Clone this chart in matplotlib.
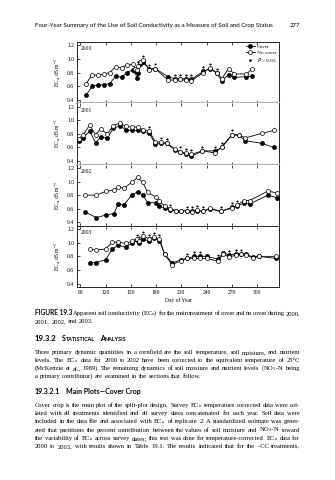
import numpy as np
import matplotlib
matplotlib.use("Agg")
import matplotlib.pyplot as plt
from matplotlib.lines import Line2D

W, H, DPI = 335, 480, 100
SERIF = "Liberation Serif"
SANS = "Lato"
plt.rcParams["font.family"] = [SERIF, "DejaVu Sans"]
plt.rcParams["mathtext.default"] = "regular"

# ---------------- data: apparent soil conductivity, dS/m ----------------
years = ["2000", "2001", "2002", "2003"]

days_2000 = [97, 104, 111, 118, 125, 132, 139, 145, 152, 155, 157, 159, 161, 164, 172,
             179, 194, 202, 208, 215, 222, 236, 244, 252, 258, 266, 273, 287, 294]
cover_2000 = [0.47, 0.60, 0.62, 0.62, 0.64, 0.75, 0.73, 0.80, 0.84, 0.82, 0.72, 0.80, 0.93,
              0.96, 0.85, 0.86, 0.74, 0.71, 0.71, 0.71, 0.70, 0.82, 0.86, 0.79, 0.68, 0.77,
              0.73, 0.74, 0.75]
nocover_2000 = [0.64, 0.77, 0.76, 0.78, 0.80, 0.89, 0.87, 0.91, 0.92, 0.86, 0.84, 0.90, 0.96,
                0.99, 0.84, 0.86, 0.69, 0.69, 0.70, 0.69, 0.68, 0.80, 0.87, 0.80, 0.71, 0.86,
                0.78, 0.78, 0.85]
sig_2000 = [159, 164, 172, 179, 202, 208, 215, 222, 236, 244, 252]

days_2001 = [88, 93, 101, 108, 114, 122, 129, 137, 144, 151, 158, 165, 172, 179, 186, 193,
             202, 208, 216, 222, 235, 250, 258, 270, 278, 286, 306, 320]
cover_2001 = [0.69, 0.74, 0.84, 0.67, 0.75, 0.74, 0.88, 0.92, 0.86, 0.85, 0.85, 0.84, 0.81,
              0.65, 0.66, 0.66, 0.57, 0.53, 0.50, 0.47, 0.55, 0.55, 0.60, 0.78, 0.78, 0.70,
              0.66, 0.60]
nocover_2001 = [0.73, 0.78, 0.93, 0.79, 0.87, 0.80, 0.92, 0.96, 0.91, 0.90, 0.90, 0.86, 0.84,
                0.68, 0.68, 0.66, 0.58, 0.54, 0.52, 0.50, 0.55, 0.52, 0.61, 0.79, 0.79, 0.74,
                0.81, 0.85]
sig_2001 = [172, 186, 193, 208, 216, 222, 235, 250, 258, 270]

days_2002 = [96, 109, 121, 130, 135, 142, 151, 158, 164, 170, 180, 184, 190, 197, 204, 210,
             217, 223, 229, 236, 244, 257, 270, 276, 284, 291, 313, 324]
cover_2002 = [0.55, 0.47, 0.51, 0.53, 0.67, 0.66, 0.80, 0.85, 0.80, 0.69, 0.69, 0.64, 0.61,
              0.58, 0.57, 0.57, 0.57, 0.56, 0.57, 0.56, 0.60, 0.56, 0.62, 0.64, 0.68, 0.67,
              0.80, 0.76]
nocover_2002 = [0.80, 0.80, 0.86, 0.87, 0.92, 0.90, 0.99, 1.06, 0.99, 0.84, 0.77, 0.71, 0.64,
                0.60, 0.57, 0.57, 0.57, 0.55, 0.58, 0.56, 0.61, 0.56, 0.61, 0.65, 0.72, 0.72,
                0.86, 0.83]
sig_2002 = [197, 217, 223, 229, 236, 257, 270, 276]

days_2003 = [102, 108, 120, 128, 135, 144, 151, 157, 160, 165, 171, 177, 184, 190, 199, 209,
             217, 225, 232, 240, 253, 260, 267, 275, 281, 287, 295, 302, 323]
cover_2003 = [0.71, 0.71, 0.75, 0.91, 0.96, 0.94, 0.99, 1.04, 0.99, 1.05, 1.03, 1.07, 1.03,
              0.84, 0.70, 0.75, 0.77, 0.80, 0.80, 0.80, 0.76, 0.85, 0.82, 0.84, 0.84, 0.83,
              0.79, 0.80, 0.77]
nocover_2003 = [0.91, 0.89, 0.91, 1.01, 1.01, 0.99, 1.02, 1.06, 1.02, 1.10, 1.06, 1.08, 1.06,
                0.83, 0.68, 0.73, 0.77, 0.77, 0.77, 0.77, 0.73, 0.83, 0.79, 0.82, 0.83, 0.82,
                0.78, 0.80, 0.80]
sig_2003 = [157, 160, 165, 171, 177, 184, 217, 225, 232, 253, 267, 275, 281]

x_ticks = [90, 120, 150, 180, 210, 240, 270, 300]
y_ticks = [0.4, 0.6, 0.8, 1.0, 1.2]

panels = [
    (days_2000, cover_2000, nocover_2000, sig_2000),
    (days_2001, cover_2001, nocover_2001, sig_2001),
    (days_2002, cover_2002, nocover_2002, sig_2002),
    (days_2003, cover_2003, nocover_2003, sig_2003),
]

# ---------------- page text ----------------
header = "Four-Year Summary of the Use of Soil Conductivity as a Measure of Soil and Crop Status"
page_no = "277"
caption_label = "FIGURE 19.3"
caption_lines = [
    "Apparent soil conductivity (EC$_a$) for the main treatment of cover and no cover during 2000,",
    "2001, 2002, and 2003.",
]
section_no = "19.3.2"
section_title = "Statistical Analysis"
para1 = [
    "Three primary dynamic quantities in a cornfield are the soil temperature, soil moisture, and nutrient",
    "levels. The EC$_a$ data for 2000 to 2002 have been corrected to the equivalent temperature of 25°C",
    "(McKenzie et al., 1989). The remaining dynamics of soil moisture and nutrient levels (NO$_3$-N being",
    "a primary contributor) are examined in the sections that follow.",
]
subsection_no = "19.3.2.1"
subsection_title = "Main Plots—Cover Crop"
para2 = [
    "Cover crop is the main plot of the split-plot design. Survey EC$_a$ temperature corrected data were col-",
    "lated with all treatments identified and all survey dates concatenated for each year. Soil data were",
    "included in the data file and associated with EC$_a$ of replicate 2. A standardized estimate was gener-",
    "ated that partitions the percent contribution between the values of soil moisture and NO$_3$-N toward",
    "the variability of EC$_a$ across survey dates; this test was done for temperature-corrected EC$_a$ data for",
    "2000 to 2003, with results shown in Table 19.1. The results indicated that for the \u2013CC treatments,",
]

fig = plt.figure(figsize=(W / DPI, H / DPI), dpi=DPI)
fig.patch.set_facecolor("white")
renderer = fig.canvas.get_renderer()


def px_rect(left, top, right, bottom):
    return [left / W, 1 - bottom / H, (right - left) / W, (bottom - top) / H]


# ---------------- chart panels ----------------
AX_L, AX_R, AX_T, AX_B = 77, 279, 42, 287
ph = (AX_B - AX_T) / 4
line_kw = dict(color="black", lw=0.6, marker="o", ms=2.9, mew=0.5, mec="black")
star_marker = (6, 2, 0)

for i, (yr, (days, cov, nocov, sig)) in enumerate(zip(years, panels)):
    ax = fig.add_axes(px_rect(AX_L, AX_T + i * ph, AX_R, AX_T + (i + 1) * ph))
    ax.plot(days, cov, mfc="black", zorder=3, **line_kw)
    ax.plot(days, nocov, mfc="white", zorder=4, **line_kw)
    top_vals = [max(cov[days.index(d)], nocov[days.index(d)]) + 0.06 for d in sig]
    ax.scatter(sig, top_vals, marker=star_marker, s=1.5, lw=0.35, color="black", zorder=5)

    ax.set_xlim(86, 326)
    ax.set_ylim(0.35, 1.25)
    ax.set_xticks(x_ticks)
    ax.set_yticks(y_ticks)
    ax.yaxis.set_major_formatter(lambda v, p: f"{v:.1f}")
    ax.tick_params(direction="in", length=2, width=0.5, top=True, labelsize=4, pad=2)
    if i < 3:
        ax.tick_params(labelbottom=False)
    for sp in ax.spines.values():
        sp.set_linewidth(0.6)
    if i in (0, 1):
        ax.spines["bottom"].set_color("0.7")
        ax.spines["bottom"].set_linewidth(1.6)
    if i in (1, 2):
        ax.spines["top"].set_visible(False)
    ax.text(0.02, 0.93, yr, transform=ax.transAxes, fontsize=4, va="top", ha="left")
    ax.set_ylabel("EC$_a$, dS m$^{-1}$", fontsize=4, labelpad=3)

    if i == 0:
        handles = [
            Line2D([], [], mfc="black", **line_kw),
            Line2D([], [], mfc="white", **line_kw),
            Line2D([], [], ls="none", marker=star_marker, ms=2, mew=0.35, color="black"),
        ]
        ax.legend(handles, ["Cover", "No cover", "$\\mathit{P}$ > 0.05"], loc="upper right",
                  fontsize=3.8, frameon=False, handlelength=1.6, handletextpad=0.5,
                  labelspacing=0.2, borderaxespad=0.2, borderpad=0.2)
    if i == 3:
        ax.set_xlabel("Day of Year", fontsize=4, labelpad=2)


# ---------------- justified text helpers ----------------
TXT_L, TXT_R = 35, 300


def seg_width(s, props):
    t = fig.text(0.5, 0.5, s, **props)
    w = t.get_window_extent(renderer).width
    t.remove()
    return w


def token_widths(tokens):
    return [sum(seg_width(s, p) for s, p in tok) for tok in tokens]


def words(line, props):
    return [[(w, props)] for w in line.split(" ")]


# body size: the largest that lets every full line fit with a normal word gap
body_size = 5.4
while body_size > 3.5:
    props = dict(family=SERIF, fontsize=body_size)
    ok = True
    for ln in para1[:-1] + para2:
        tw = token_widths(words(ln, props))
        if (TXT_R - TXT_L - sum(tw)) / (len(tw) - 1) < 1.4:
            ok = False
            break
    if ok:
        break
    body_size -= 0.1
BODY = dict(family=SERIF, fontsize=body_size)
BOLD_SANS = dict(family=SANS, fontsize=body_size, weight="bold")


def place_line(tokens, y, justify=True, x0=TXT_L, x1=TXT_R, space=1.7):
    widths = token_widths(tokens)
    if justify and len(tokens) > 1:
        gap = (x1 - x0 - sum(widths)) / (len(tokens) - 1)
    else:
        gap = space
    x = x0
    for tok, w in zip(tokens, widths):
        xx = x
        for s, p in tok:
            fig.text(xx / W, 1 - y / H, s, va="baseline", ha="left", **p)
            xx += seg_width(s, p)
        x += w + gap


def small_caps(word, size_big, size_small, weight="bold", family=SANS):
    return [(word[0], dict(family=family, fontsize=size_big, weight=weight)),
            (word[1:].upper(), dict(family=family, fontsize=size_small, weight=weight))]


# running head
fig.text(TXT_L / W, 1 - 27 / H, header, family=SANS, fontsize=4.45, va="baseline", ha="left")
fig.text(TXT_R / W, 1 - 27 / H, page_no, family=SANS, fontsize=4.45, va="baseline", ha="right")

# caption
place_line([[(caption_label, BOLD_SANS)]] + words(caption_lines[0], BODY), 315)
place_line(words(caption_lines[1], BODY), 323, justify=False)

# section heading
sec_tokens = [[(section_no, dict(family=SANS, fontsize=5.6, weight="bold"))]]
sec_tokens += [small_caps(w, 5.0, 3.9) for w in section_title.split(" ")]
place_line(sec_tokens, 341, justify=False, space=5)

y = 354
for j, ln in enumerate(para1):
    place_line(words(ln, BODY), y, justify=j < len(para1) - 1)
    y += 8

sub_tokens = [[(subsection_no, dict(family=SANS, fontsize=5.0, weight="bold"))],
              [(subsection_title, dict(family=SANS, fontsize=5.0, weight="bold"))]]
place_line(sub_tokens, 394, justify=False, space=6)

y = 407
for ln in para2:
    place_line(words(ln, BODY), y)
    y += 8.2

fig.savefig("out.png", dpi=DPI, facecolor="white")
